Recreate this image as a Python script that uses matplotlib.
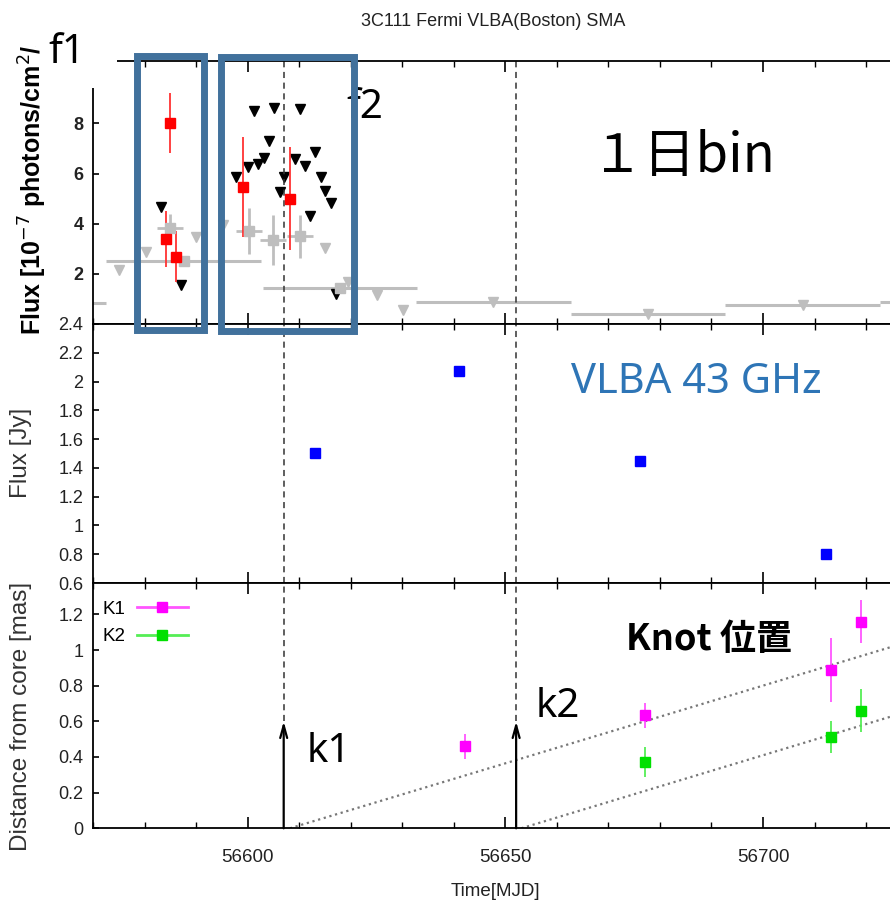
import matplotlib.pyplot as plt
from matplotlib.lines import Line2D
from matplotlib.patches import Rectangle
from matplotlib.ticker import MultipleLocator

plt.rcParams['font.family'] = ['Liberation Sans', 'DejaVu Sans']

# ---- data ----
# Fermi-LAT 1-day bins (red = detections, black = upper limits)
day_t = [56584.1, 56585.0, 56586.2, 56599.1, 56608.2]
day_flux = [3.39, 8.0, 2.69, 5.46, 5.0]
day_err = [1.1, 1.2, 1.0, 2.0, 2.05]
day_ul_t = [56583.1, 56587.1, 56597.8, 56600.1, 56601.2, 56602.0, 56603.1,
            56604.1, 56605.1, 56606.2, 56607.1, 56609.1, 56610.2, 56611.1,
            56612.2, 56613.1, 56614.2, 56615.1, 56616.1, 56617.2]
day_ul = [4.67, 1.57, 5.85, 6.25, 8.49, 6.38, 6.6,
          7.3, 8.62, 5.26, 5.85, 6.58, 8.56, 6.31,
          4.31, 6.84, 5.85, 5.29, 4.84, 1.21]
# 5-day bins (grey)
d5_t = [56585.0, 56600.2, 56605.0, 56610.2]
d5_flux = [3.84, 3.70, 3.35, 3.50]
d5_err = [0.55, 0.92, 1.0, 0.85]
d5_ul_t = [56575.1, 56580.2, 56590.0, 56595.2, 56615.1, 56619.5, 56625.1, 56630.2]
d5_ul = [2.16, 2.89, 3.48, 3.94, 3.05, 1.66, 1.17, 0.54]
# 30-day bins (grey)
d30_t = [56587.6, 56617.9]
d30_flux = [2.52, 1.45]
d30_ul_t = [56557.6, 56647.7, 56677.7, 56707.7, 56737.7]
d30_ul = [0.84, 0.88, 0.38, 0.75, 0.88]

# VLBA 43 GHz core flux
vlba_t = [56613.0, 56641.0, 56676.1, 56712.2]
vlba_flux = [1.50, 2.07, 1.45, 0.80]

# knot distances from core
k1_t = [56642.1, 56677.1, 56713.1, 56719.1]
k1_d = [0.46, 0.635, 0.89, 1.16]
k1_err = [0.07, 0.07, 0.18, 0.12]
k2_t = [56677.1, 56713.1, 56719.1]
k2_d = [0.37, 0.51, 0.66]
k2_err = [0.085, 0.09, 0.12]
k1_fit_t = [56608.2, 56726.0]
k1_fit_d = [0.0, 1.027]
k2_fit_t = [56653.1, 56726.0]
k2_fit_d = [0.0, 0.637]

eject_t = [56607.0, 56652.1]

GREY = '#bebebe'
W, H = 890, 907


def fx(px):
    return px / W


def fy(py):
    return 1 - py / H


fig = plt.figure(figsize=(8.9, 9.07), dpi=100)
L, R = 93, 897
ax1 = fig.add_axes([fx(L), fy(324), (R - L) / W, (324 - 60.7) / H])
ax2 = fig.add_axes([fx(L), fy(583), (R - L) / W, (583 - 324) / H])
ax3 = fig.add_axes([fx(L), fy(828.3), (R - L) / W, (828.3 - 583) / H])

for ax in (ax1, ax2, ax3):
    ax.set_xlim(56570, 56726.0)
    ax.xaxis.set_major_locator(MultipleLocator(50))
    ax.xaxis.set_minor_locator(MultipleLocator(10))
    ax.tick_params(axis='x', which='major', direction='in', top=True, length=8, width=1.2)
    ax.tick_params(axis='x', which='minor', direction='in', top=True, length=4.5, width=1.0)
    ax.tick_params(axis='y', direction='in', right=True, length=4.5, width=1.2,
                   labelsize=13, pad=7, labelcolor='#222222')
    for s in ax.spines.values():
        s.set_linewidth(1.3)
    ax.tick_params(axis='x', labelbottom=False)

# ---- top panel: Fermi ----
ax1.errorbar(d30_ul_t, d30_ul, xerr=15, fmt='v', color=GREY, ms=7, lw=2.2)
ax1.errorbar(d30_t, d30_flux, xerr=15, yerr=0.15, fmt='s', color=GREY, ms=7, lw=2.2)
ax1.plot(d5_ul_t, d5_ul, 'v', color=GREY, ms=7)
ax1.errorbar(d5_t, d5_flux, xerr=2.5, yerr=d5_err, fmt='s', color=GREY, ms=7, lw=2)
ax1.plot(day_ul_t, day_ul, 'v', color='black', ms=7)
ax1.errorbar(day_t, day_flux, yerr=day_err, fmt='s', color='red', ecolor='#ff3333',
             ms=7.5, lw=1.3)
ax1.set_ylim(0, 10.5)
ax1.set_yticks([2, 4, 6, 8, 10])
ax1.set_yticklabels(['2', '4', '6', '8', ''], fontweight='bold')

# ---- middle panel: VLBA ----
ax2.plot(vlba_t, vlba_flux, 's', color='#0000ff', ms=6.5)
ax2.set_ylim(0.6, 2.4)
yt2 = [0.6, 0.8, 1.0, 1.2, 1.4, 1.6, 1.8, 2.0, 2.2, 2.4]
ax2.set_yticks(yt2)
ax2.set_yticklabels(['0.6', '0.8', '1', '1.2', '1.4', '1.6', '1.8', '2', '2.2', '2.4'])

# ---- bottom panel: knots ----
ax3.plot(k1_fit_t, k1_fit_d, ':', color='#777777', lw=1.6)
ax3.plot(k2_fit_t, k2_fit_d, ':', color='#777777', lw=1.6)
ax3.errorbar(k1_t, k1_d, yerr=k1_err, fmt='s', color='#ff00ff', ecolor='#ff55ff', ms=6.5, lw=1.3)
ax3.errorbar(k2_t, k2_d, yerr=k2_err, fmt='s', color='#00e000', ecolor='#55ee55', ms=6.5, lw=1.3)
ax3.set_ylim(0, 1.376)
yt3 = [0, 0.2, 0.4, 0.6, 0.8, 1.0, 1.2]
ax3.set_yticks(yt3)
ax3.set_yticklabels(['0', '0.2', '0.4', '0.6', '0.8', '1', '1.2'])
ax3.tick_params(axis='x', labelbottom=True, labelsize=13.5, pad=15, labelcolor='#222222')
ax3.set_xlabel('Time[MJD]', fontsize=13.5, color='#222222', labelpad=12)

handles = [Line2D([], [], color='#ff55ff', marker='s', mfc='#ff00ff', mec='#ff00ff', ms=6.5, lw=2),
           Line2D([], [], color='#55ee55', marker='s', mfc='#00e000', mec='#00e000', ms=6.5, lw=2)]
ax3.legend(handles, ['K1', 'K2'], loc='upper left', bbox_to_anchor=(0.012, 0.928),
           frameon=False, markerfirst=False, fontsize=13.5, handlelength=2.7,
           handletextpad=0.6, labelspacing=0.56, borderpad=0, borderaxespad=0)

# ejection times: dashed lines + arrows
for t in eject_t:
    ax1.axvline(t, ls=(0, (4, 3)), color='#333333', lw=1.1)
    ax2.axvline(t, ls=(0, (4, 3)), color='#333333', lw=1.1)
    ax3.axvline(t, ymin=0.6 / 1.376, ls=(0, (4, 3)), color='#333333', lw=1.1)
    ax3.annotate('', xy=(t, 0.6), xytext=(t, 0),
                 arrowprops=dict(arrowstyle='->,head_length=0.9,head_width=0.25',
                                 color='black', lw=1.6, shrinkA=0, shrinkB=0))

# ---- labels ----
fig.text(fx(493), fy(22), '3C111 Fermi VLBA(Boston) SMA', ha='center', va='center',
         fontsize=13, color='#222222')
fig.text(fx(33), fy(335), 'Flux [10$^{-7}$ photons/cm$^{2}$/s]', rotation=90,
         ha='center', va='bottom', fontsize=18, fontweight='bold', zorder=1)
fig.text(fx(21), fy(453), 'Flux [Jy]', rotation=90, ha='center', va='center',
         fontsize=17.5, color='#333333')
fig.text(fx(21), fy(716), 'Distance from core [mas]', rotation=90, ha='center', va='center',
         fontsize=17.5, color='#333333')

# white corner with f1, as in the slide
fig.add_artist(Rectangle((fx(0), fy(46)), 117 / W, 46 / H, transform=fig.transFigure,
                         fc='white', ec='none', zorder=2))
fig.add_artist(Rectangle((fx(44), fy(88)), 73 / W, 88 / H, transform=fig.transFigure,
                         fc='white', ec='none', zorder=2))
fig.text(fx(48), fy(63), 'f1', fontsize=29, family=['Noto Sans'], va='baseline', zorder=3)
fig.text(fx(346), fy(118), 'f2', fontsize=29, family=['Noto Sans'], va='baseline', zorder=3)

# selection boxes
BOX = '#41719c'
fig.add_artist(Rectangle((fx(136.5), fy(330)), (204 - 136.5) / W, (330 - 56) / H,
                         transform=fig.transFigure, fill=False, ec=BOX, lw=5, zorder=5))
fig.add_artist(Rectangle((fx(221), fy(330.5)), (354 - 221) / W, (330.5 - 57) / H,
                         transform=fig.transFigure, fill=False, ec=BOX, lw=5, zorder=5))

fig.text(fx(683), fy(171.7), '１日bin', ha='center', va='baseline', fontsize=38,
         family=['Noto Sans CJK JP'])
fig.text(fx(571), fy(393.3), 'VLBA 43 GHz', ha='left', va='baseline', fontsize=30,
         color='#2e75b6', family=['Noto Sans'])
fig.text(fx(626), fy(650), 'Knot 位置', ha='left', va='baseline', fontsize=26,
         fontweight='bold', family=['Noto Sans CJK JP'])
fig.text(fx(307), fy(762), 'k1', ha='left', va='baseline', fontsize=29, family=['Noto Sans'])
fig.text(fx(536), fy(716.7), 'k2', ha='left', va='baseline', fontsize=29, family=['Noto Sans'])

fig.savefig('out.png', dpi=100)
